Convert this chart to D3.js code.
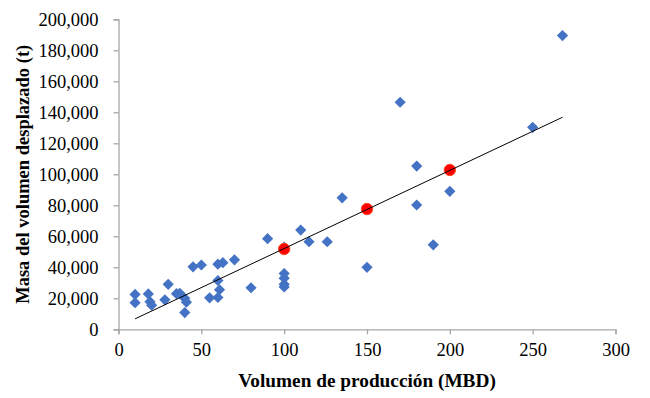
<!DOCTYPE html>
<html>
<head>
<meta charset="utf-8">
<script src="https://cdn.jsdelivr.net/npm/d3@7"></script>
<style>
  html, body { margin: 0; padding: 0; background: #fff; }
  svg { display: block; }
  text { font-family: "Liberation Serif", "Times New Roman", Tinos, "DejaVu Serif", serif; fill: #000; }
</style>
</head>
<body>
<svg id="chart" width="650" height="398"></svg>
<script>
// ---- Data ----
const obsX = [10, 10, 18, 19, 20, 28, 30, 35, 37, 40, 41, 40, 45, 50, 55, 60, 63, 60, 61, 60, 70, 80, 90, 100, 100, 100, 100, 100, 110, 115, 126, 135, 150, 170, 180, 180, 190, 200, 250, 268];
const obsY = [22500, 17200, 22800, 17800, 15500, 19000, 29000, 23000, 23200, 20000, 17500, 10800, 40300, 41500, 20300, 42000, 43000, 31500, 25500, 20500, 44800, 26800, 58500, 53000, 36000, 33000, 29000, 27300, 64000, 56500, 56500, 84800, 40000, 146500, 105300, 80200, 54500, 89000, 130300, 189500];
const estX = [100, 150, 200];
const estY = [51800, 77600, 102800];
const trendX = [10, 268];
const trendY = [6750, 136800];
const xTicks = [0, 50, 100, 150, 200, 250, 300];
const yTicks = [0, 20000, 40000, 60000, 80000, 100000, 120000, 140000, 160000, 180000, 200000];
const xTitle = "Volumen de producción (MBD)";
const yTitle = "Masa del volumen desplazado (t)";

// ---- Layout ----
const svg = d3.select("#chart");
const pLeft = 118.5, pRight = 615.5, pTop = 19.3, pBottom = 329.3;

const x = d3.scaleLinear().domain([0, 300]).range([pLeft, pRight]);
const y = d3.scaleLinear().domain([0, 200000]).range([pBottom, pTop]);
const fmt = d3.format(",");

const axisColor = "#A6A6A6";
const serif = "'Liberation Serif', 'Times New Roman', Tinos, 'DejaVu Serif', serif";

// X axis
const gx = svg.append("g").attr("transform", `translate(0,${pBottom})`)
  .call(d3.axisBottom(x).tickValues(xTicks).tickSize(5).tickPadding(9).tickFormat(d3.format("d")));
gx.attr("font-family", serif);
gx.select(".domain").attr("stroke", axisColor).attr("stroke-width", 1.3);
gx.selectAll(".tick line").attr("stroke", axisColor).attr("stroke-width", 1.3);
gx.selectAll(".tick text").attr("font-size", "18.5px").attr("fill", "#000").attr("font-family", serif);

// Y axis
const gy = svg.append("g").attr("transform", `translate(${pLeft},0)`)
  .call(d3.axisLeft(y).tickValues(yTicks).tickSize(5).tickPadding(15).tickFormat(fmt));
gy.attr("font-family", serif);
gy.select(".domain").attr("stroke", axisColor).attr("stroke-width", 1.3);
gy.selectAll(".tick line").attr("stroke", axisColor).attr("stroke-width", 1.3);
gy.selectAll(".tick text").attr("font-size", "18.5px").attr("fill", "#000").attr("font-family", serif);

// Observed points (blue diamonds)
const obs = obsX.map((v, i) => ({x: v, y: obsY[i]}));
const r = 5.6;
svg.append("g").selectAll("path").data(obs).join("path")
  .attr("d", `M0,${-r}L${r},0L0,${r}L${-r},0Z`)
  .attr("transform", d => `translate(${x(d.x)},${y(d.y)})`)
  .attr("fill", "#4472C4");

// Estimated points (red circles)
const est = estX.map((v, i) => ({x: v, y: estY[i]}));
svg.append("g").selectAll("circle").data(est).join("circle")
  .attr("cx", d => x(d.x)).attr("cy", d => y(d.y)).attr("r", 5.7)
  .attr("fill", "#FF0000").attr("stroke", "#FF4A1A").attr("stroke-width", 1);

// Trend line
const trend = trendX.map((v, i) => ({x: v, y: trendY[i]}));
svg.append("path").datum(trend)
  .attr("d", d3.line().x(d => x(d.x)).y(d => y(d.y)))
  .attr("fill", "none").attr("stroke", "#000").attr("stroke-width", 1);

// Axis titles
svg.append("text")
  .attr("x", (pLeft + pRight) / 2).attr("y", 387)
  .attr("text-anchor", "middle").attr("font-size", "19.3px").attr("font-weight", "bold")
  .attr("font-family", serif)
  .text(xTitle);

svg.append("text")
  .attr("transform", `translate(29,${(pTop + pBottom) / 2}) rotate(-90)`)
  .attr("text-anchor", "middle").attr("font-size", "18.5px").attr("font-weight", "bold")
  .attr("font-family", serif)
  .text(yTitle);
</script>
</body>
</html>
